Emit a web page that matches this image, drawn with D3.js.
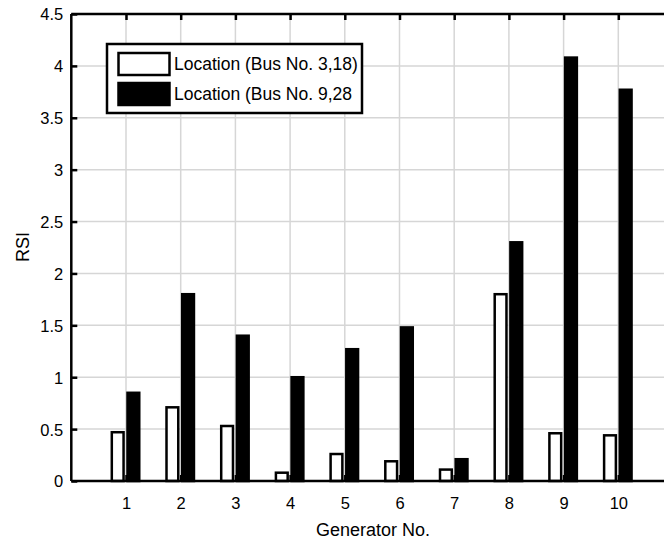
<!DOCTYPE html>
<html>
<head>
<meta charset="utf-8">
<script src="https://cdnjs.cloudflare.com/ajax/libs/d3/7.8.5/d3.min.js"></script>
<style>
  body { margin: 0; background: #fff; }
  text { font-family: "Liberation Sans", Arial, sans-serif; fill: #000; }
</style>
</head>
<body>
<div id="chart"></div>
<script>
var generators = [1, 2, 3, 4, 5, 6, 7, 8, 9, 10];
var loc1 = [0.47, 0.71, 0.53, 0.08, 0.26, 0.19, 0.11, 1.80, 0.46, 0.44];
var loc2 = [0.85, 1.80, 1.40, 1.00, 1.27, 1.48, 0.21, 2.30, 4.08, 3.77];
var yTicks = [0, 0.5, 1, 1.5, 2, 2.5, 3, 3.5, 4, 4.5];
var legendLabels = ["Location (Bus No. 3,18)", "Location (Bus No. 9,28"];

var W = 664, H = 543;
var margin = {top: 14, left: 71.3, bottom: 62};

var xScale = d3.scaleLinear()
    .domain([0, 11])
    .range([margin.left, 673]);

var yScale = d3.scaleLinear()
    .domain([0, 4.5])
    .range([H - margin.bottom, margin.top]);

var svg = d3.select("#chart").append("svg")
    .attr("width", W)
    .attr("height", H);

// grid
svg.append("g").selectAll("line").data(generators.concat([11])).enter().append("line")
    .attr("x1", function(d) { return xScale(d); })
    .attr("x2", function(d) { return xScale(d); })
    .attr("y1", yScale(0)).attr("y2", yScale(4.5))
    .attr("stroke", "#d6d6d6").attr("stroke-width", 1.5);

svg.append("g").selectAll("line").data(yTicks).enter().append("line")
    .attr("x1", xScale(0)).attr("x2", xScale(11))
    .attr("y1", function(d) { return yScale(d); })
    .attr("y2", function(d) { return yScale(d); })
    .attr("stroke", "#d6d6d6").attr("stroke-width", 1.5);

// bars
var bw = 0.215;
var y0 = yScale(0);

svg.append("g").selectAll("rect").data(loc1).enter().append("rect")
    .attr("x", function(d, i) { return xScale(generators[i] - 0.152 - bw / 2); })
    .attr("width", xScale(bw) - xScale(0))
    .attr("y", function(d) { return yScale(d); })
    .attr("height", function(d) { return y0 - yScale(d); })
    .attr("fill", "#fff").attr("stroke", "#000").attr("stroke-width", 2.5);

svg.append("g").selectAll("rect").data(loc2).enter().append("rect")
    .attr("x", function(d, i) { return xScale(generators[i] + 0.135 - bw / 2); })
    .attr("width", xScale(bw) - xScale(0))
    .attr("y", function(d) { return yScale(d); })
    .attr("height", function(d) { return y0 - yScale(d); })
    .attr("fill", "#000").attr("stroke", "#000").attr("stroke-width", 2.5);

// axes, MATLAB style: ticks inward, box on
var yAxis = svg.append("g")
    .attr("transform", "translate(" + xScale(0) + ",0)")
    .call(d3.axisLeft(yScale).tickValues(yTicks).tickSize(-6).tickPadding(8)
      .tickFormat(function(d) { return d; }));

var xAxis = svg.append("g")
    .attr("transform", "translate(0," + y0 + ")")
    .call(d3.axisBottom(xScale).tickValues(generators).tickSize(-6).tickPadding(16));

var topAxis = svg.append("g")
    .attr("transform", "translate(0," + yScale(4.5) + ")")
    .call(d3.axisTop(xScale).tickValues(generators).tickSize(-6).tickFormat(""));

[yAxis, xAxis, topAxis].forEach(function(a) {
  a.select(".domain").attr("stroke", "#000").attr("stroke-width", 2.5);
  a.selectAll(".tick line").attr("stroke", "#000").attr("stroke-width", 2.5);
  a.selectAll(".tick text").style("font-size", "16.5px")
      .style("font-family", "'Liberation Sans', Arial, sans-serif").attr("fill", "#000");
});
yAxis.select(".domain").attr("d", "M0," + yScale(0) + "V" + yScale(4.5));
xAxis.select(".domain").attr("d", "M" + xScale(0) + ",0H" + xScale(11));
topAxis.select(".domain").attr("d", "M" + xScale(0) + ",0H" + xScale(11));
yAxis.selectAll(".tick text").attr("dy", "0.36em");

// labels
svg.append("text")
    .attr("text-anchor", "middle")
    .attr("transform", "translate(29,247) rotate(-90)")
    .style("font-size", "18px")
    .text("RSI");

svg.append("text")
    .attr("text-anchor", "middle")
    .attr("x", 373)
    .attr("y", 536)
    .style("font-size", "18px")
    .text("Generator No.");

// legend
var lg = svg.append("g");
lg.append("rect")
    .attr("x", 107).attr("y", 44).attr("width", 255).attr("height", 69)
    .attr("fill", "#fff").attr("stroke", "#000").attr("stroke-width", 2.5);

lg.selectAll(".sw").data(legendLabels).enter().append("rect")
    .attr("class", "sw")
    .attr("x", 118.5).attr("y", function(d, i) { return 53 + i * 30; })
    .attr("width", 51).attr("height", 22)
    .attr("fill", function(d, i) { return i == 0 ? "#fff" : "#000"; })
    .attr("stroke", "#000").attr("stroke-width", 2.5);

lg.selectAll(".lt").data(legendLabels).enter().append("text")
    .attr("class", "lt")
    .attr("x", 174).attr("y", function(d, i) { return 70 + i * 30; })
    .style("font-size", "17.5px")
    .text(function(d) { return d; });
</script>
</body>
</html>
